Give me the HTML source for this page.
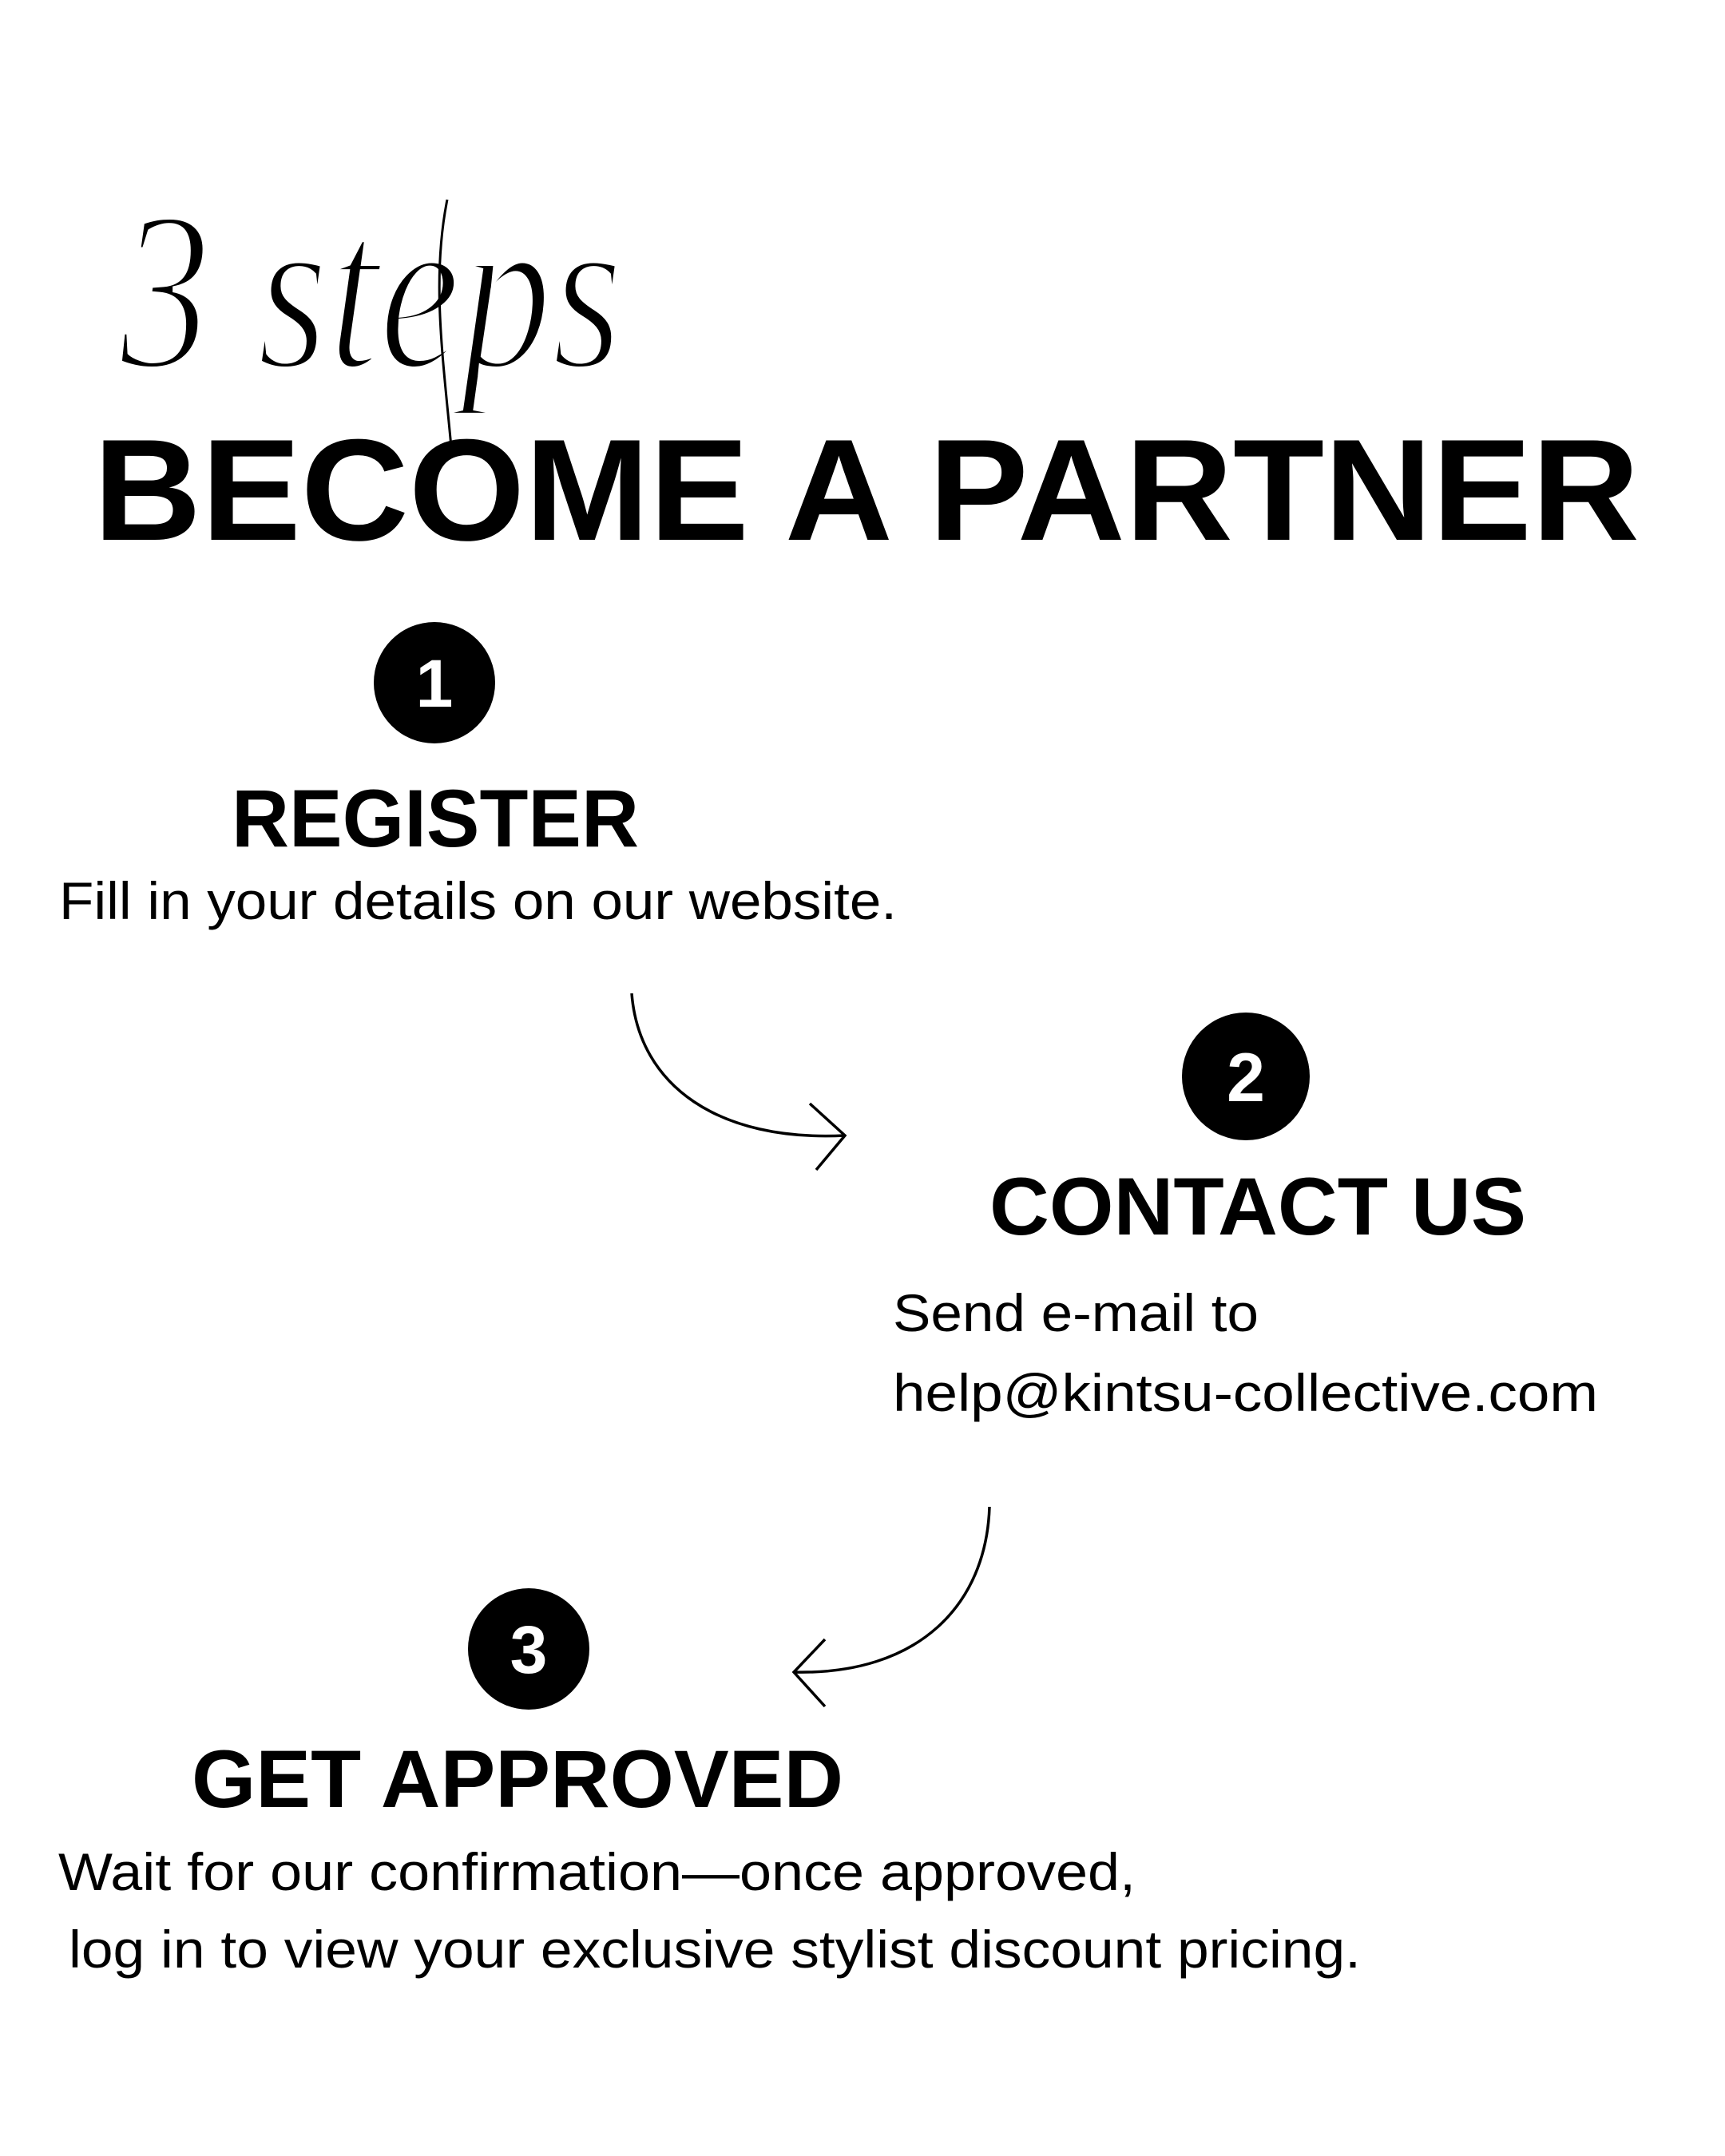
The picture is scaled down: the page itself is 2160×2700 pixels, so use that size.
<!DOCTYPE html>
<html><head><meta charset="utf-8"><style>
html,body{margin:0;padding:0;background:#fff}
svg{display:block}
</style></head><body>
<svg width="2160" height="2700" viewBox="0 0 2160 2700" xmlns="http://www.w3.org/2000/svg">
<rect width="2160" height="2700" fill="#fff"/>
<g transform="translate(150,460) scale(1,1.5)">
<text x="0" y="0" font-family="Liberation Serif, serif" font-style="italic" font-size="190" fill="#000" stroke="#fff" stroke-width="5" textLength="630" lengthAdjust="spacingAndGlyphs">3  steps</text>
</g>
<path d="M560 250 C540 350 555 450 565 560" stroke="#000" stroke-width="3" fill="none"/>
<text x="117" y="676" font-family="Liberation Sans, sans-serif" font-weight="bold" font-size="181" fill="#000" textLength="1936" lengthAdjust="spacingAndGlyphs">BECOME A PARTNER</text>

<circle cx="544" cy="855" r="76" fill="#000"/>
<text x="544" y="885" text-anchor="middle" font-family="Liberation Sans, sans-serif" font-weight="bold" font-size="84" fill="#fff">1</text>
<text x="290" y="1060" font-family="Liberation Sans, sans-serif" font-weight="bold" font-size="102" fill="#000" textLength="510" lengthAdjust="spacingAndGlyphs">REGISTER</text>
<text x="74" y="1151" font-family="Liberation Sans, sans-serif" font-size="66" fill="#000" textLength="1049" lengthAdjust="spacingAndGlyphs">Fill in your details on our website.</text>

<path d="M791 1244 C800 1360 900 1430 1058 1422" stroke="#000" stroke-width="3.5" fill="none"/>
<path d="M1014 1382 L1058 1422 L1022 1465" stroke="#000" stroke-width="3.5" fill="none"/>

<circle cx="1560" cy="1348" r="80" fill="#000"/>
<text x="1560" y="1379" text-anchor="middle" font-family="Liberation Sans, sans-serif" font-weight="bold" font-size="86" fill="#fff">2</text>
<text x="1239" y="1546" font-family="Liberation Sans, sans-serif" font-weight="bold" font-size="102" fill="#000" textLength="672" lengthAdjust="spacingAndGlyphs">CONTACT US</text>
<text x="1118" y="1667" font-family="Liberation Sans, sans-serif" font-size="66" fill="#000" textLength="458" lengthAdjust="spacingAndGlyphs">Send e-mail to</text>
<text x="1118" y="1767" font-family="Liberation Sans, sans-serif" font-size="66" fill="#000" textLength="883" lengthAdjust="spacingAndGlyphs">help@kintsu-collective.com</text>

<path d="M1239 1887 C1235 2010 1150 2098 994 2094" stroke="#000" stroke-width="3.5" fill="none"/>
<path d="M1033 2053 L994 2094 L1033 2137" stroke="#000" stroke-width="3.5" fill="none"/>

<circle cx="662" cy="2065" r="76" fill="#000"/>
<text x="662" y="2095" text-anchor="middle" font-family="Liberation Sans, sans-serif" font-weight="bold" font-size="84" fill="#fff">3</text>
<text x="240" y="2263" font-family="Liberation Sans, sans-serif" font-weight="bold" font-size="102" fill="#000" textLength="816" lengthAdjust="spacingAndGlyphs">GET APPROVED</text>
<text x="73" y="2367" font-family="Liberation Sans, sans-serif" font-size="66" fill="#000" textLength="1349" lengthAdjust="spacingAndGlyphs">Wait for our confirmation—once approved,</text>
<text x="86" y="2464" font-family="Liberation Sans, sans-serif" font-size="66" fill="#000" textLength="1618" lengthAdjust="spacingAndGlyphs">log in to view your exclusive stylist discount pricing.</text>
</svg>
</body></html>
